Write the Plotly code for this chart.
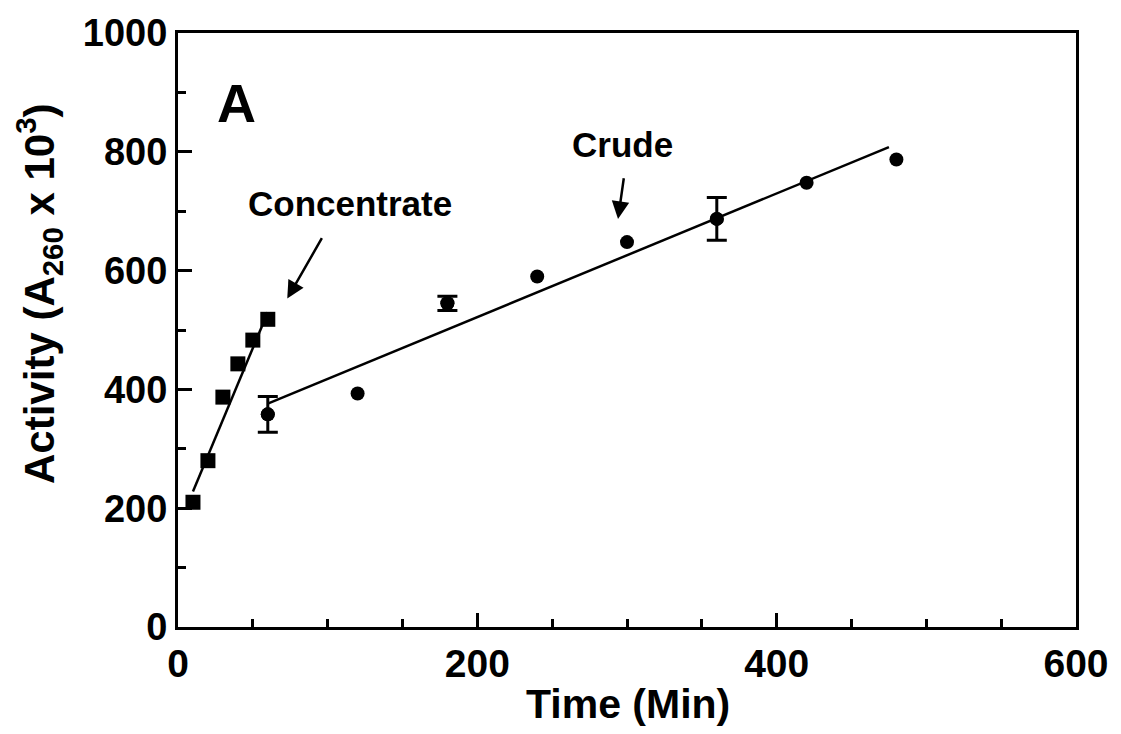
import plotly.graph_objects as go

conc_time = [10, 20, 30, 40, 50, 60]
conc_activity = [210, 280, 387, 443, 483, 518]

crude_time = [60, 120, 180, 240, 300, 360, 420, 480]
crude_activity = [358, 393, 545, 590, 648, 687, 748, 787]
crude_err = [30, None, 12, None, None, 36, None, None]

conc_fit_x = [10, 60]
conc_fit_y = [228, 530]
crude_fit_x = [60, 475]
crude_fit_y = [376, 808]

x_ticks = [0, 200, 400, 600]
y_ticks = [0, 200, 400, 600, 800, 1000]

FONT = "Liberation Sans, Arial, sans-serif"

fig = go.Figure()
fig.add_trace(go.Scatter(x=conc_fit_x, y=conc_fit_y, mode="lines",
                         line=dict(color="black", width=2.5), showlegend=False))
fig.add_trace(go.Scatter(x=crude_fit_x, y=crude_fit_y, mode="lines",
                         line=dict(color="black", width=2.5), showlegend=False))
fig.add_trace(go.Scatter(x=conc_time, y=conc_activity, mode="markers",
                         marker=dict(symbol="square", size=15, color="black"),
                         showlegend=False))
fig.add_trace(go.Scatter(x=crude_time, y=crude_activity, mode="markers",
                         marker=dict(symbol="circle", size=14, color="black"),
                         showlegend=False))
eb_x = [t for t, e in zip(crude_time, crude_err) if e is not None]
eb_y = [a for a, e in zip(crude_activity, crude_err) if e is not None]
eb_e = [e for e in crude_err if e is not None]
fig.add_trace(go.Scatter(x=eb_x, y=eb_y, mode="markers",
                         marker=dict(symbol="circle", size=14, color="black"),
                         error_y=dict(type="data", array=eb_e, visible=True,
                                      color="black", thickness=3, width=10),
                         showlegend=False))

fig.add_annotation(x=73, y=553, ax=96.7, ay=657, xref="x", yref="y", axref="x", ayref="y",
                   showarrow=True, arrowhead=2, arrowsize=1.4, arrowwidth=2.5,
                   arrowcolor="black", text="")
fig.add_annotation(x=294, y=687, ax=298, ay=758, xref="x", yref="y", axref="x", ayref="y",
                   showarrow=True, arrowhead=2, arrowsize=1.4, arrowwidth=2.5,
                   arrowcolor="black", text="")
fig.add_annotation(x=115, y=713, xref="x", yref="y", text="<b>Concentrate</b>",
                   showarrow=False, font=dict(family=FONT, size=35, color="black"))
fig.add_annotation(x=297, y=812, xref="x", yref="y", text="<b>Crude</b>",
                   showarrow=False, font=dict(family=FONT, size=35, color="black"))
fig.add_annotation(x=39, y=882, xref="x", yref="y", text="<b>A</b>",
                   showarrow=False, font=dict(family=FONT, size=54, color="black"))

# axis titles
fig.add_annotation(xref="paper", yref="paper", x=(630 - 178) / 902, y=(627 - 705) / 600,
                   text="<b>Time (Min)</b>", showarrow=False, xanchor="center", yanchor="middle",
                   font=dict(family=FONT, size=41, color="black"))
fig.add_annotation(xref="paper", yref="paper", x=(38 - 178) / 902, y=(627 - 290) / 600,
                   text="<b>Activity (A<sub>260</sub> x 10<sup>3</sup>)</b>", textangle=-90,
                   showarrow=False, xanchor="center", yanchor="middle",
                   font=dict(family=FONT, size=42, color="black"))

fig.update_layout(
    width=1121, height=734,
    margin=dict(l=178, r=41, t=27, b=107),
    paper_bgcolor="white", plot_bgcolor="white",
    font=dict(family=FONT, color="black"),
)
fig.update_xaxes(
    range=[0, 600], showgrid=False, zeroline=False,
    showline=True, linecolor="black", linewidth=3, mirror=True,
    ticks="inside", ticklen=14, tickwidth=3, tickcolor="black",
    tickvals=x_ticks, ticktext=[f"<b>{v}</b>" for v in x_ticks],
    tickfont=dict(family=FONT, size=39, color="black"),
    minor=dict(ticks="inside", ticklen=8, tickwidth=2.5, tickcolor="black", dtick=50, showgrid=False),
)
fig.update_yaxes(
    range=[0, 1000], showgrid=False, zeroline=False,
    showline=True, linecolor="black", linewidth=3, mirror=True,
    ticks="inside", ticklen=14, tickwidth=3, tickcolor="black",
    tickvals=y_ticks, ticktext=[f"<b>{v}</b>" for v in y_ticks],
    tickfont=dict(family=FONT, size=38, color="black"),
    minor=dict(ticks="inside", ticklen=8, tickwidth=2.5, tickcolor="black", dtick=100, showgrid=False),
)
fig.write_html("out.html")
